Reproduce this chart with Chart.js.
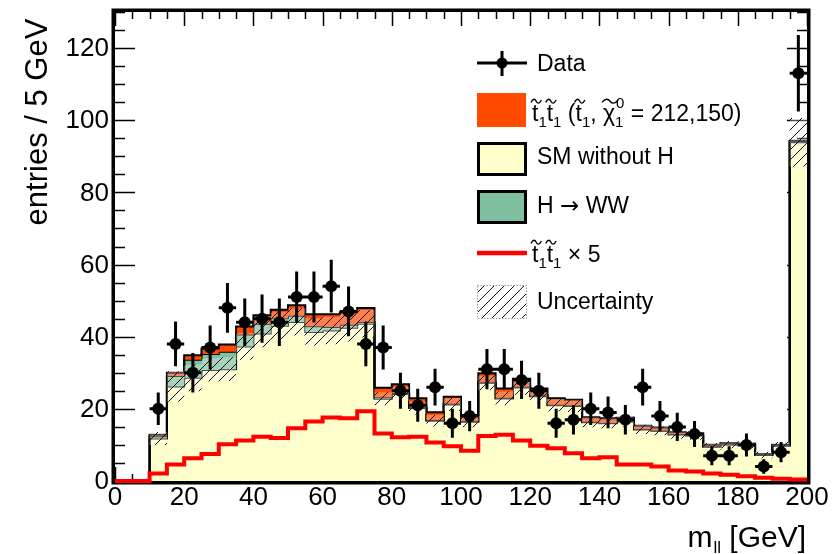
<!DOCTYPE html>
<html><head><meta charset="utf-8">
<script src="https://cdn.jsdelivr.net/npm/chart.js@4.4.1/dist/chart.umd.min.js"></script>
<style>html,body{margin:0;padding:0;background:#fff;}#wrap{width:837px;height:554px;}</style>
</head><body><div id="wrap"><canvas id="c" width="837" height="554"></canvas></div>
<script>
// ---------- data ----------
const binEdges = [0,5,10,15,20,25,30,35,40,45,50,55,60,65,70,75,80,85,90,95,100,105,110,115,120,125,130,135,140,145,150,155,160,165,170,175,180,185,190,195,200];
const dataCounts = [null,null,20,38,30,37,48,44,45,44,51,51,54,47,38,37,25,21,26,16,18,31,31,28,25,16,17,20,19,17,26,18,15,13,7,7,10,4,8,113];
const dataErrors = [0,0,4.5,6.2,5.5,6.1,6.9,6.6,6.7,6.6,7.1,7.1,7.3,6.9,6.2,6.1,5.0,4.6,5.1,4.0,4.2,5.6,5.6,5.3,5.0,4.0,4.1,4.5,4.4,4.1,5.1,4.2,3.9,3.6,2.6,2.6,3.2,2.0,2.8,10.6];
const smWithoutH = [0,0,11.8,26.2,28.6,30.8,31.0,37.3,40.9,43.0,44.1,41.3,41.7,42.5,43.6,22.8,24.1,20.2,16.7,21.2,16.4,27.2,22.9,25.9,23.5,21.0,20.8,16.3,16.0,16.5,14.3,13.9,12.9,12.6,9.5,10.1,10.0,7.2,9.8,93.9];
const hToWW = [0,0,0.6,2.9,5.0,4.4,4.8,3.3,2.6,2.1,1.7,1.6,1.0,0.8,0.5,0.4,0.3,0.3,0.2,0.2,0.2,0.2,0.2,0.2,0.2,0.15,0.15,0.1,0.1,0.1,0.1,0.1,0.1,0.1,0.1,0.1,0.1,0.1,0.1,0.3];
const stopSignal = [0,0,0.42,0.92,1.26,1.5,2.04,2.24,2.46,2.38,2.92,3.3,3.52,3.48,3.86,2.64,2.42,2.46,2.14,1.92,1.68,2.5,2.56,2.24,1.96,1.82,1.54,1.26,1.32,0.92,0.92,0.8,0.58,0.52,0.42,0.34,0.26,0.18,0.12,0.08];
const stopTimes5 = [0,0,2.1,4.6,6.3,7.5,10.2,11.2,12.3,11.9,14.6,16.5,17.6,17.4,19.3,13.2,12.1,12.3,10.7,9.6,8.4,12.5,12.8,11.2,9.8,9.1,7.7,6.3,6.6,4.6,4.6,4.0,2.9,2.6,2.1,1.7,1.3,0.9,0.6,0.4];
const smUncertainty = [0,0,1.8,4.2,3.7,3.2,3.3,3.7,3.8,3.8,3.8,3.8,3.8,3.8,3.8,1.8,2.0,1.8,1.6,1.8,1.5,2.0,1.9,2.0,1.8,1.7,1.7,1.4,1.4,1.4,1.3,1.2,1.2,1.2,1.0,1.0,1.0,0.9,1.0,6.7];
const xTickLabels = [0,20,40,60,80,100,120,140,160,180,200];
const yTickLabels = [0,20,40,60,80,100,120];

// ---------- styles ----------
const FONT = '"Liberation Sans", Arial, Helvetica, sans-serif';
const COL_SM = '#ffffcc', COL_H = '#80c0a0', COL_STOP = '#ff4a00', COL_RED = '#ff0000';

const canvas = document.getElementById('c');
const ctx0 = canvas.getContext('2d');
function makeHatch(){
  const c = document.createElement('canvas'); c.width = 10; c.height = 10;
  const g = c.getContext('2d');
  g.fillStyle = 'rgba(255,255,255,0.3)'; g.fillRect(0,0,10,10);
  g.strokeStyle = '#111'; g.lineWidth = 1;
  g.beginPath();
  g.moveTo(0,10); g.lineTo(10,0);
  g.moveTo(-5,5); g.lineTo(5,-5);
  g.moveTo(5,15); g.lineTo(15,5);
  g.stroke();
  return ctx0.createPattern(c,'repeat');
}
const hatch = makeHatch();

function steps(vals){ return binEdges.map((x,i)=>({x:x, y: vals[Math.min(i, vals.length-1)]})); }
const cumH = smWithoutH.map((v,i)=>v+hToWW[i]);
const cumStop = cumH.map((v,i)=>v+stopSignal[i]);
const uncLo = smWithoutH.map((v,i)=>v-smUncertainty[i]);
const uncHi = smWithoutH.map((v,i)=>v+smUncertainty[i]);
const dataPts = [];
dataCounts.forEach((n,i)=>{ if(n!==null) dataPts.push({x:(binEdges[i]+binEdges[i+1])/2, y:n, e:dataErrors[i], w:(binEdges[i+1]-binEdges[i])/2}); });

const lineBase = {stepped:true, pointRadius:0, pointHoverRadius:0, tension:0};

// ---------- plugins ----------
const framePlugin = {
  id:'frame',
  beforeDatasetsDraw(chart){
    const {ctx, chartArea:a, scales:{x,y}} = chart;
    ctx.save();
    ctx.strokeStyle = '#000'; ctx.lineWidth = 1.5;
    ctx.beginPath();
    for(let v=0; v<=130; v+=5){
      const py = Math.round(y.getPixelForValue(v))+0.5;
      const L = (v%20===0)?20:10;
      ctx.moveTo(a.left, py); ctx.lineTo(a.left+L, py);
      ctx.moveTo(a.right, py); ctx.lineTo(a.right-L, py);
    }
    for(let v=0; v<=200; v+=5){
      const px = Math.round(x.getPixelForValue(v))+0.5;
      const L = (v%20===0)?14:7;
      ctx.moveTo(px, a.bottom); ctx.lineTo(px, a.bottom-L);
      ctx.moveTo(px, a.top); ctx.lineTo(px, a.top+L);
    }
    ctx.stroke();
    ctx.lineWidth = 3.5;
    ctx.strokeRect(a.left-1.75, a.top-1.75, a.right-a.left+3.5, a.bottom-a.top+3.5);
    // tick labels
    ctx.fillStyle = '#000';
    ctx.font = '26px '+FONT;
    ctx.textAlign = 'right'; ctx.textBaseline = 'middle';
    yTickLabels.forEach(v=>{ ctx.fillText(String(v), a.left-6, y.getPixelForValue(v)+1); });
    ctx.textAlign = 'center'; ctx.textBaseline = 'middle';
    xTickLabels.forEach(v=>{ ctx.fillText(String(v), x.getPixelForValue(v), a.bottom+17); });
    ctx.restore();
  },
  afterDatasetsDraw(chart){
    const {ctx, scales:{x,y}} = chart;
    ctx.save();
    ctx.strokeStyle = '#000'; ctx.lineWidth = 3;
    ctx.beginPath();
    dataPts.forEach(p=>{
      const px = x.getPixelForValue(p.x), py = y.getPixelForValue(p.y);
      ctx.moveTo(x.getPixelForValue(p.x-p.w), py); ctx.lineTo(x.getPixelForValue(p.x+p.w), py);
      ctx.moveTo(px, y.getPixelForValue(p.y-p.e)); ctx.lineTo(px, y.getPixelForValue(p.y+p.e));
    });
    ctx.stroke();
    ctx.restore();
  }
};

function drawTilde(ctx, x0, x1, yc){
  const w = x1-x0;
  ctx.beginPath();
  ctx.moveTo(x0, yc+1.2);
  ctx.bezierCurveTo(x0+w*0.2, yc-3, x0+w*0.38, yc-2.5, x0+w*0.5, yc);
  ctx.bezierCurveTo(x0+w*0.62, yc+2.5, x0+w*0.8, yc+3, x1, yc-1.2);
  ctx.stroke();
}
function drawRich(ctx, tokens, x, base, S, s){
  ctx.textAlign='left'; ctx.textBaseline='alphabetic';
  for(const tk of tokens){
    if(tk.sub!==undefined || tk.sup!==undefined){
      ctx.font = s+'px '+FONT;
      let w = 0;
      if(tk.sub!==undefined){ ctx.fillText(tk.sub, x, base+6); w = Math.max(w, ctx.measureText(tk.sub).width); }
      if(tk.sup!==undefined){ ctx.fillText(tk.sup, x+1, base-13); w = Math.max(w, ctx.measureText(tk.sup).width+1); }
      x += w;
    } else {
      ctx.font = S+'px '+FONT;
      ctx.fillText(tk.t, x, base);
      const w = ctx.measureText(tk.t).width;
      if(tk.tilde){ ctx.lineWidth = 1.4; ctx.strokeStyle='#000'; drawTilde(ctx, x-1, x+w+3, base-S*0.86); }
      x += w;
    }
  }
  return x;
}

const legendPlugin = {
  id:'customLegend',
  afterDraw(chart){
    const ctx = chart.ctx;
    ctx.save();
    ctx.fillStyle = '#000'; ctx.strokeStyle = '#000';
    const S = 23, s = 15, tx = 537;
    // Data
    ctx.lineWidth = 3;
    ctx.beginPath(); ctx.moveTo(477,63); ctx.lineTo(527,63); ctx.moveTo(502,51); ctx.lineTo(502,76); ctx.stroke();
    ctx.beginPath(); ctx.arc(502,63,5.5,0,Math.PI*2); ctx.fill();
    ctx.font = S+'px '+FONT; ctx.textBaseline='middle'; ctx.textAlign='left';
    ctx.fillText('Data', tx, 65);
    // stop signal
    ctx.fillStyle = COL_STOP; ctx.fillRect(477,93,49,34);
    ctx.fillStyle = '#000';
    drawRich(ctx, [{t:'t',tilde:true},{sub:'1'},{t:'t',tilde:true},{sub:'1'},{t:' ('},{t:'t',tilde:true},{sub:'1'},{t:', '},{t:'\u03C7',tilde:true},{sub:'1',sup:'0'},{t:' = 212,150)'}], 532, 121, S, s);
    // SM
    ctx.fillStyle = COL_SM; ctx.fillRect(478.5,143.5,47,31);
    ctx.lineWidth = 3; ctx.strokeStyle='#000'; ctx.strokeRect(478.5,143.5,47,31);
    ctx.fillStyle = '#000'; ctx.font = S+'px '+FONT; ctx.textBaseline='middle';
    ctx.fillText('SM without H', tx, 158);
    // H->WW (arrow in DejaVu Sans for a longer glyph)
    ctx.fillStyle = COL_H; ctx.fillRect(478.5,191.5,47,31);
    ctx.strokeRect(478.5,191.5,47,31);
    ctx.fillStyle = '#000'; ctx.textBaseline='middle';
    ctx.font = S+'px '+FONT; ctx.fillText('H ', tx, 207);
    let ax = tx + ctx.measureText('H ').width;
    ctx.font = S+'px "DejaVu Sans", '+FONT; ctx.fillText('\u2192', ax, 207);
    ax += ctx.measureText('\u2192').width;
    ctx.font = S+'px '+FONT; ctx.fillText(' WW', ax, 207);
    // stop x 5 line
    ctx.strokeStyle = COL_RED; ctx.lineWidth = 4.5;
    ctx.beginPath(); ctx.moveTo(477,253); ctx.lineTo(527,253); ctx.stroke();
    ctx.fillStyle='#000'; ctx.strokeStyle='#000';
    drawRich(ctx, [{t:'t',tilde:true},{sub:'1'},{t:'t',tilde:true},{sub:'1'},{t:' \u00D7 5'}], 532, 262, S, s);
    // uncertainty
    ctx.fillStyle = hatch; ctx.fillRect(478,286,48,32);
    ctx.strokeStyle = '#999'; ctx.lineWidth = 1; ctx.setLineDash([1.5,1.5]);
    ctx.strokeRect(477.5,285.5,49,33); ctx.setLineDash([]);
    ctx.fillStyle = '#000'; ctx.font = S+'px '+FONT; ctx.textBaseline='middle';
    ctx.fillText('Uncertainty', tx, 303);
    // y axis title
    ctx.save();
    ctx.translate(38, 122); ctx.rotate(-Math.PI/2);
    ctx.font = '31px '+FONT; ctx.textAlign='center'; ctx.textBaseline='middle';
    ctx.fillText('entries / 5 GeV', 0, 0);
    ctx.restore();
    // x title: m_ll [GeV], right-aligned
    ctx.textBaseline='alphabetic'; ctx.textAlign='left';
    ctx.font = '30px '+FONT; const wm = ctx.measureText('m').width; const wg = ctx.measureText(' [GeV]').width;
    ctx.font = '17px '+FONT; const wl = ctx.measureText('ll').width;
    let x0 = 806 - (wm+wl+wg+1);
    ctx.font = '30px '+FONT; ctx.fillText('m', x0, 547);
    ctx.font = '17px '+FONT; ctx.fillText('ll', x0+wm+1, 553);
    ctx.font = '30px '+FONT; ctx.fillText(' [GeV]', x0+wm+wl+1, 547);
    ctx.restore();
  }
};

new Chart(canvas, {
  type:'line',
  data:{datasets:[
    Object.assign({label:'SM without H', data:steps(smWithoutH), fill:'origin', backgroundColor:COL_SM, borderColor:'#000', borderWidth:2, order:6}, lineBase),
    Object.assign({label:'H to WW', data:steps(cumH), fill:'-1', backgroundColor:COL_H, borderColor:'#000', borderWidth:2, order:5}, lineBase),
    Object.assign({label:'stop', data:steps(cumStop), fill:'-1', backgroundColor:COL_STOP, borderColor:'#000', borderWidth:2, order:4}, lineBase),
    Object.assign({label:'unc lo', data:steps(uncLo), fill:false, borderColor:'rgba(0,0,0,0)', borderWidth:1, order:3}, lineBase),
    Object.assign({label:'Uncertainty', data:steps(uncHi), fill:'-1', backgroundColor:hatch, borderColor:'rgba(0,0,0,0)', borderWidth:1, order:2}, lineBase),
    Object.assign({label:'stop x5', data:steps(stopTimes5), fill:false, borderColor:COL_RED, borderWidth:4, order:1, clip:{left:0,top:0,right:0,bottom:3}}, lineBase),
    {label:'Data', data:dataPts, showLine:false, pointRadius:6, pointHoverRadius:6, pointBackgroundColor:'#000', pointBorderColor:'#000', pointBorderWidth:0, order:0, clip:false}
  ]},
  options:{
    responsive:false, animation:false, devicePixelRatio:1,
    layout:{padding:{top:12, right:30, left:115, bottom:73}},
    events:[],
    scales:{
      x:{type:'linear', min:0, max:200, display:false},
      y:{type:'linear', min:0, max:130, display:false}
    },
    plugins:{legend:{display:false}, tooltip:{enabled:false}, title:{display:false}}
  },
  plugins:[framePlugin, legendPlugin]
});
</script></body></html>
